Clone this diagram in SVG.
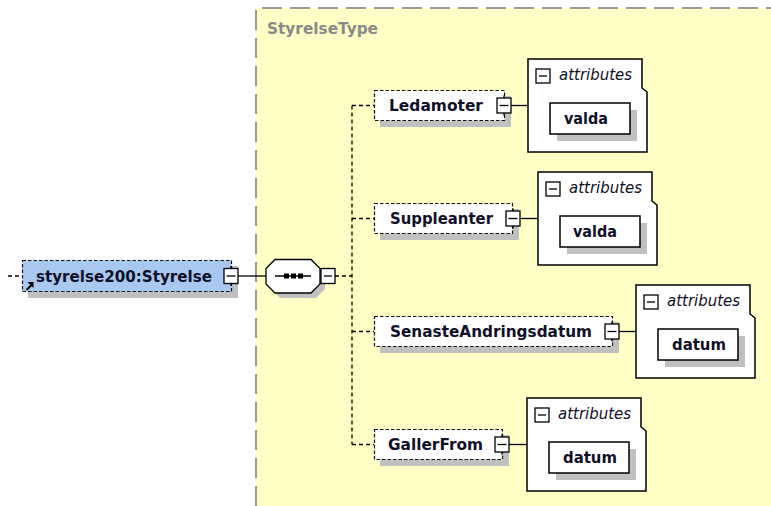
<svg xmlns="http://www.w3.org/2000/svg" width="771" height="506" viewBox="0 0 771 506">
<style>
.bg{fill:#ffffff}
.panel{fill:#ffffc6;stroke:none}
.pborder{fill:none;stroke:#9a9a9a;stroke-width:2;stroke-dasharray:20 8}
.ptitle{font-family:"DejaVu Sans",sans-serif;font-weight:bold;font-size:16px;fill:#8a8a8a}
.shadow{fill:#c0c0c0;stroke:none}
.elem{fill:#ffffff;stroke:#111;stroke-width:1.2;stroke-dasharray:3.5 2}
.root{fill:#a8c8f0;stroke:#111;stroke-width:1.2;stroke-dasharray:3.5 2}
.name{font-family:"DejaVu Sans",sans-serif;font-weight:bold;font-size:16px;fill:#101028}
.exp{fill:#ffffff;stroke:#000;stroke-width:1.3}
.expl{stroke:#000;stroke-width:1.3}
.attbox{fill:#ffffff;stroke:#000;stroke-width:1.5}
.valbox{fill:#ffffff;stroke:#000;stroke-width:1.5}
.att{font-family:"DejaVu Sans",sans-serif;font-style:italic;font-size:15.5px;fill:#101028}
.solid{fill:none;stroke:#000;stroke-width:1.3}
.dash{fill:none;stroke:#000;stroke-width:1.3;stroke-dasharray:4 3}
.octa{fill:#ffffff;stroke:#000;stroke-width:1.3}
</style>
<defs>
<g id="expander">
<line class="expl" x1="0" y1="-10" x2="0" y2="10"/>
<rect class="exp" x="-7" y="-7.5" width="14" height="15"/>
<line class="expl" x1="-4.5" y1="0" x2="4.5" y2="0"/>
</g>
<g id="attrframe">
<polygon class="attbox" points="0,0 114,0 114,29 119,33 119,93 0,93"/>
<rect class="exp" x="8" y="10" width="14" height="14"/>
<line class="expl" x1="11" y1="17" x2="19" y2="17"/>
<text class="att" x="31" y="21" textLength="73" lengthAdjust="spacingAndGlyphs">attributes</text>
<rect class="shadow" x="29" y="51" width="80" height="31"/>
<rect class="valbox" x="22" y="44" width="80" height="31"/>
</g>
</defs>
<rect class="bg" x="0" y="0" width="771" height="506"/>

<g id="StyrelseType">
<rect class="panel" x="256" y="8" width="515" height="498"/>
<path class="pborder" d="M256,506 L256,8 L771,8"/>
<text class="ptitle" x="267" y="34" textLength="111" lengthAdjust="spacingAndGlyphs">StyrelseType</text>
</g>

<g id="connectors">
<line class="dash" x1="8" y1="276" x2="22" y2="276"/>
<line class="solid" x1="238" y1="276" x2="266" y2="276"/>
<line class="dash" x1="335" y1="276" x2="352" y2="276"/>
<line class="dash" x1="352" y1="105.5" x2="352" y2="444.5"/>
<line class="dash" x1="352" y1="105.5" x2="374" y2="105.5"/>
<line class="dash" x1="352" y1="218.5" x2="374" y2="218.5"/>
<line class="dash" x1="352" y1="331.5" x2="374" y2="331.5"/>
<line class="dash" x1="352" y1="444.5" x2="374" y2="444.5"/>
<line class="solid" x1="511" y1="105.5" x2="528" y2="105.5"/>
<line class="solid" x1="520" y1="218.5" x2="538" y2="218.5"/>
<line class="solid" x1="619" y1="331.5" x2="636" y2="331.5"/>
<line class="solid" x1="509" y1="444.5" x2="527" y2="444.5"/>
</g>

<g id="root">
<rect class="shadow" x="28" y="266" width="210" height="32"/>
<rect class="root" x="22.5" y="260.5" width="209" height="31"/>
<text class="name" x="36" y="282" textLength="176" lengthAdjust="spacingAndGlyphs">styrelse200:Styrelse</text>
<path d="M26.5,290 L31.5,285" stroke="#000" stroke-width="2" fill="none"/>
<polygon points="33.5,282 33.5,288 27.5,282" fill="#000"/>
<use href="#expander" x="231" y="276"/>
</g>

<g id="sequence">
<polygon class="shadow" points="280,264 316,264 325,273 325,289 316,298 280,298 271,289 271,273"/>
<polygon class="octa" points="275,259.5 311,259.5 320,268.5 320,284 311,293 275,293 266,284 266,268.5"/>
<line class="solid" x1="275" y1="276" x2="311" y2="276"/>
<rect x="284" y="273.5" width="5" height="5" fill="#000"/>
<rect x="291" y="273.5" width="5" height="5" fill="#000"/>
<rect x="298" y="273.5" width="5" height="5" fill="#000"/>
<rect class="exp" x="321" y="268.5" width="14" height="15"/>
<line class="expl" x1="324" y1="276" x2="332" y2="276"/>
</g>

<g id="Ledamoter">
<rect class="shadow" x="380" y="96" width="131" height="31"/>
<rect class="elem" x="374.5" y="90.5" width="130" height="30"/>
<text class="name" x="389" y="111" textLength="94" lengthAdjust="spacingAndGlyphs">Ledamoter</text>
<use href="#expander" x="504" y="105.5"/>
</g>
<g id="Ledamoter_attributes">
<use href="#attrframe" x="528" y="59"/>
<text class="name" x="564" y="124" textLength="44" lengthAdjust="spacingAndGlyphs">valda</text>
</g>

<g id="Suppleanter">
<rect class="shadow" x="380" y="209" width="139" height="31"/>
<rect class="elem" x="374.5" y="203.5" width="138" height="30"/>
<text class="name" x="390" y="224" textLength="103" lengthAdjust="spacingAndGlyphs">Suppleanter</text>
<use href="#expander" x="513" y="218.5"/>
</g>
<g id="Suppleanter_attributes">
<use href="#attrframe" x="538" y="172"/>
<text class="name" x="573" y="237" textLength="44" lengthAdjust="spacingAndGlyphs">valda</text>
</g>

<g id="SenasteAndringsdatum">
<rect class="shadow" x="380" y="322" width="239" height="31"/>
<rect class="elem" x="374.5" y="316.5" width="238" height="30"/>
<text class="name" x="390" y="337" textLength="202" lengthAdjust="spacingAndGlyphs">SenasteAndringsdatum</text>
<use href="#expander" x="612" y="331.5"/>
</g>
<g id="SenasteAndringsdatum_attributes">
<use href="#attrframe" x="636" y="285"/>
<text class="name" x="672" y="350" textLength="54" lengthAdjust="spacingAndGlyphs">datum</text>
</g>

<g id="GallerFrom">
<rect class="shadow" x="380" y="435" width="129" height="31"/>
<rect class="elem" x="374.5" y="429.5" width="128" height="30"/>
<text class="name" x="388" y="450" textLength="95" lengthAdjust="spacingAndGlyphs">GallerFrom</text>
<use href="#expander" x="502" y="444.5"/>
</g>
<g id="GallerFrom_attributes">
<use href="#attrframe" x="527" y="398"/>
<text class="name" x="563" y="463" textLength="54" lengthAdjust="spacingAndGlyphs">datum</text>
</g>
</svg>
